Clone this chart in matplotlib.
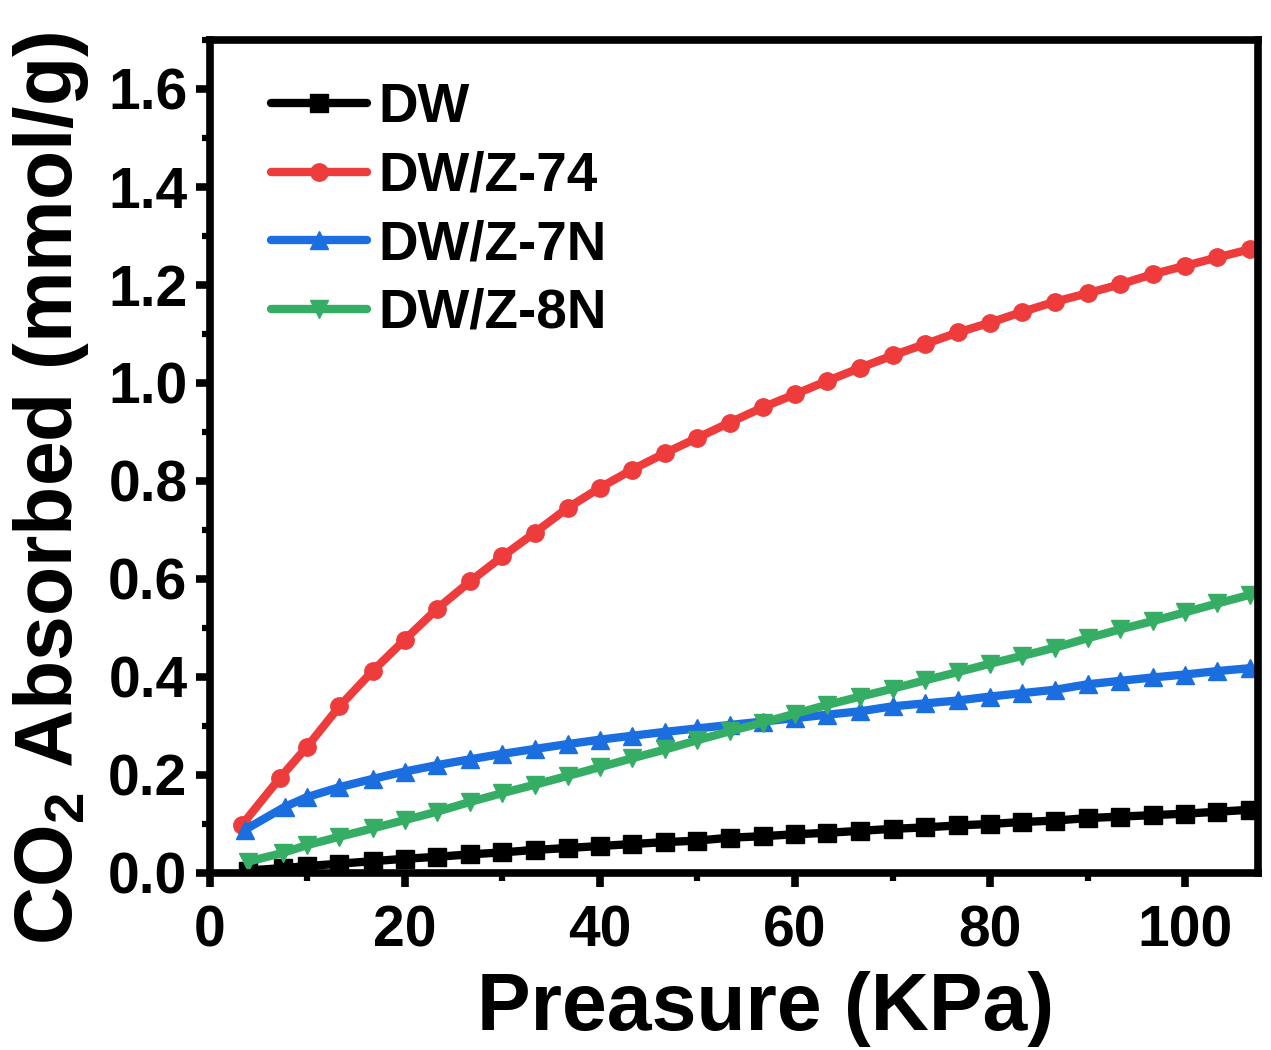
import matplotlib
matplotlib.use("Agg")
import matplotlib.pyplot as plt
from matplotlib.ticker import MultipleLocator

plt.rcParams['font.family'] = ['Liberation Sans', 'DejaVu Sans']
plt.rcParams['font.weight'] = 'bold'
plt.rcParams['mathtext.fontset'] = 'custom'
plt.rcParams['mathtext.rm'] = 'Liberation Sans:bold'
plt.rcParams['mathtext.default'] = 'rm'

# ---- data ----
p_common = [13.3, 16.7, 20.0, 23.3, 26.7, 30.0, 33.3, 36.7, 40.0, 43.3, 46.7,
            50.0, 53.3, 56.7, 60.0, 63.3, 66.7, 70.0, 73.3, 76.7, 80.0, 83.3,
            86.7, 90.0, 93.3, 96.7, 100.0, 103.3, 106.7]
p_dw = [3.9, 7.5, 10.0] + p_common
p_z74 = [3.3, 7.2, 10.0] + p_common
p_z7n = [3.6, 7.7, 10.0] + p_common
p_z8n = [3.9, 7.5, 10.0] + p_common

dw = [0.005, 0.010, 0.014, 0.019, 0.024, 0.029, 0.033, 0.038, 0.042, 0.047,
      0.051, 0.055, 0.059, 0.063, 0.066, 0.072, 0.075, 0.079, 0.082, 0.086,
      0.090, 0.093, 0.097, 0.100, 0.104, 0.107, 0.112, 0.115, 0.118, 0.121,
      0.125, 0.129]
z74 = [0.098, 0.194, 0.258, 0.340, 0.412, 0.476, 0.539, 0.595, 0.646, 0.694,
       0.745, 0.786, 0.823, 0.857, 0.888, 0.919, 0.950, 0.977, 1.004, 1.031,
       1.056, 1.079, 1.103, 1.123, 1.145, 1.166, 1.183, 1.201, 1.222, 1.239,
       1.256, 1.273]
z7n = [0.088, 0.135, 0.155, 0.175, 0.192, 0.207, 0.220, 0.232, 0.243, 0.253,
       0.263, 0.272, 0.280, 0.288, 0.295, 0.302, 0.309, 0.316, 0.323, 0.330,
       0.340, 0.346, 0.352, 0.360, 0.367, 0.374, 0.385, 0.392, 0.399, 0.405,
       0.412, 0.418]
z8n = [0.023, 0.041, 0.057, 0.074, 0.091, 0.108, 0.125, 0.145, 0.163, 0.180,
       0.198, 0.216, 0.234, 0.252, 0.271, 0.289, 0.307, 0.325, 0.343, 0.360,
       0.376, 0.393, 0.410, 0.427, 0.443, 0.460, 0.479, 0.497, 0.514, 0.532,
       0.550, 0.568]

labels = ['DW', 'DW/Z-74', 'DW/Z-7N', 'DW/Z-8N']
colors = ['#000000', '#ee3b3b', '#1a6ee0', '#35ad65']
markers = ['s', 'o', '^', 'v']

fig = plt.figure(figsize=(12.71, 10.5), dpi=100)
ax = fig.add_axes([0.165, 0.1686, 0.825, 0.7934])

series = [(p_dw, dw), (p_z74, z74), (p_z7n, z7n), (p_z8n, z8n)]
for (x, y), lab, c, m in zip(series, labels, colors, markers):
    ax.plot(x, y, color=c, marker=m, markersize=12.5, linewidth=6,
            label=lab, solid_capstyle='round')

ax.set_xlim(0, 107.5)
ax.set_ylim(0, 1.7)
ax.xaxis.set_major_locator(MultipleLocator(20))
ax.xaxis.set_minor_locator(MultipleLocator(10))
ax.yaxis.set_major_locator(MultipleLocator(0.2))
ax.yaxis.set_minor_locator(MultipleLocator(0.1))
ax.yaxis.set_major_formatter(plt.FormatStrFormatter('%.1f'))

for s in ax.spines.values():
    s.set_linewidth(5.5)
ax.tick_params(which='major', direction='out', length=10, width=5.5,
               labelsize=41)
ax.tick_params(axis='x', which='major', pad=13)
ax.tick_params(axis='y', which='major', pad=6)
ax.tick_params(which='minor', direction='out', length=6, width=4.5)
ax.tick_params(top=False, right=False, which='both')

ax.set_xlabel('Preasure (KPa)', fontsize=58, fontweight='bold')
ax.set_ylabel('CO$_2$ Absorbed (mmol/g)', fontsize=58, fontweight='bold')
ax.xaxis.set_label_coords(0.53, -0.118)
ax.yaxis.set_label_coords(-0.113, 0.462)

ax.legend(loc='upper left', frameon=False, fontsize=39.5, handlelength=1.75,
          handletextpad=0.2, labelspacing=0.3, borderaxespad=0.3,
          bbox_to_anchor=(0.022, 0.995))

fig.savefig('out.png', dpi=100)
